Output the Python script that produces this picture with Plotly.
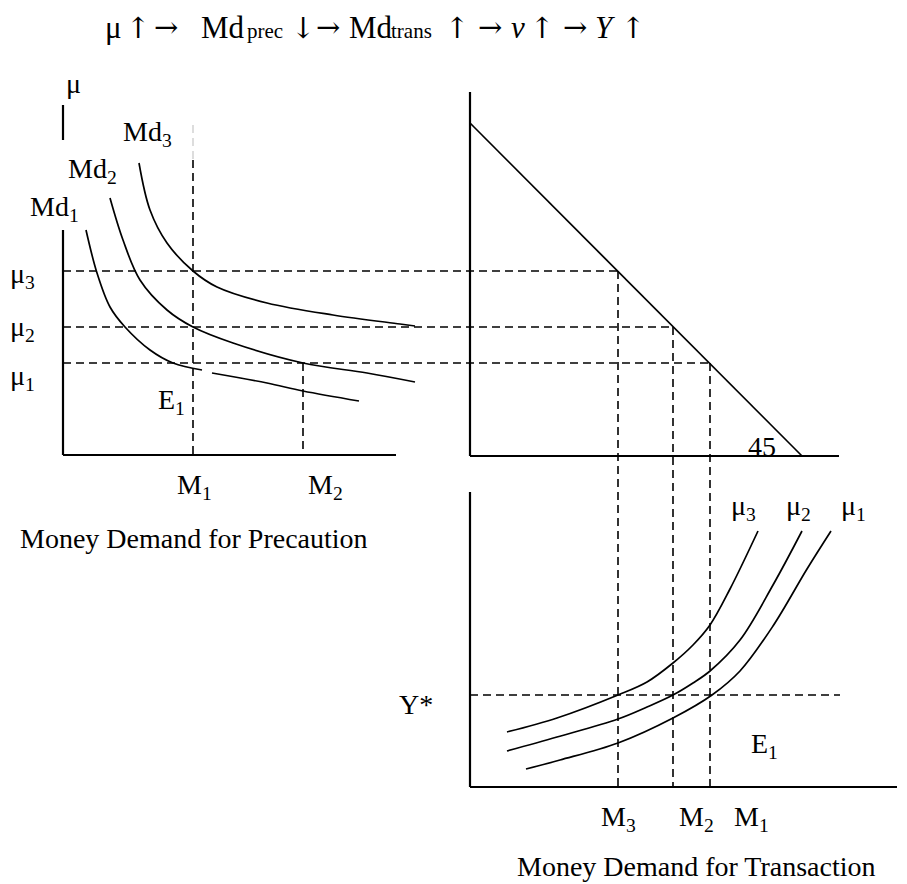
import plotly.graph_objects as go

# ---------------- data (diagram coordinates) ----------------
# Left panel: money demand for precaution curves
md3_x = [139, 150, 167, 193, 217, 267, 333, 400, 415]
md3_y = [163, 210, 243, 271, 287, 303, 315, 324, 326]
md2_x = [110, 123, 140, 167, 193, 233, 303, 367, 415]
md2_y = [198, 240, 280, 310, 327, 343, 363, 373, 382]
md1a_x = [86, 97, 110, 125, 150, 173, 202]
md1a_y = [230, 273, 307, 327, 350, 363, 370]
md1b_x = [212, 267, 303, 359]
md1b_y = [373, 383, 391, 401]

# Right-top panel: 45 degree line
diag_x = [470, 802]
diag_y = [123, 456]

# Bottom panel: money demand for transaction curves
t3_x = [507, 557, 618, 647, 673, 693, 710, 730, 758]
t3_y = [732, 718, 695, 682, 663, 645, 625, 589, 531]
t2_x = [507, 557, 618, 647, 673, 693, 710, 740, 773, 802]
t2_y = [751, 737, 719, 707, 695, 683, 671, 640, 585, 531]
t1_x = [526, 560, 618, 673, 712, 740, 773, 807, 831]
t1_y = [769, 760, 743, 718, 695, 671, 626, 569, 531]

# Levels
mu_levels = [271, 327, 363]          # mu3, mu2, mu1
mu_ends = [618, 673, 710]            # where the dashed level meets the 45 line
m_trans = [618, 673, 710]            # M3, M2, M1 (transaction panel)
m_prec = [193, 303]                  # M1, M2 (precaution panel)
ystar = 695

# Axes segments
axes_x = [[63, 63], [63, 63], [63, 396], [470, 470], [470, 839], [470, 470], [470, 897]]
axes_y = [[105, 140], [230, 455], [455, 455], [92, 456], [456, 456], [492, 787], [787, 787]]

# Labels
labels = [
    ("μ", 73, 83),
    ("Md<sub>3</sub>", 147, 133),
    ("Md<sub>2</sub>", 92, 170),
    ("Md<sub>1</sub>", 54, 208),
    ("μ<sub>3</sub>", 22, 275),
    ("μ<sub>2</sub>", 22, 328),
    ("μ<sub>1</sub>", 22, 377),
    ("E<sub>1</sub>", 171, 401),
    ("M<sub>1</sub>", 194, 486),
    ("M<sub>2</sub>", 325, 486),
    ("Money Demand for Precaution", 194, 538),
    ("45", 762, 446),
    ("μ<sub>3</sub>", 743, 507),
    ("μ<sub>2</sub>", 798, 507),
    ("μ<sub>1</sub>", 853, 507),
    ("E<sub>1</sub>", 764, 745),
    ("Y*", 416, 704),
    ("M<sub>3</sub>", 618, 818),
    ("M<sub>2</sub>", 696, 818),
    ("M<sub>1</sub>", 751, 818),
    ("Money Demand for Transaction", 696, 866),
]

# Title, token by token: kind "t" = text, "s" = small (subscript-like),
# "h" = horizontal arrow, "v" = vertical arrow
title_tokens = ["μ", "↑", "→", "Md", "prec", "↓", "→", "Md", "trans",
                "↑", "→", "<i>v</i>", "↑", "→", "<i>Y</i>", "↑"]
title_kind = ["t", "v", "h", "t", "s", "v", "h", "t", "s",
              "v", "h", "t", "v", "h", "t", "v"]
title_x = [104, 138, 166, 200, 246, 303, 328, 348, 390, 457, 490, 510, 542, 575, 594, 633]

# ---------------- figure ----------------
FONT = "Liberation Serif, Times New Roman, serif"
ARROW_FONT = "DejaVu Serif"
fig = go.Figure()

def line(xs, ys, width=1.6, dash="solid", color="black", shape="linear"):
    fig.add_trace(go.Scatter(x=xs, y=ys, mode="lines", hoverinfo="skip",
                             line=dict(color=color, width=width, dash=dash, shape=shape,
                                       smoothing=1.0 if shape == "spline" else None)))

for xs, ys in zip(axes_x, axes_y):
    line(xs, ys, width=2.2)

DASH = "8px,5px"
for lv, end in zip(mu_levels, mu_ends):
    line([63, end], [lv, lv], width=1.6, dash=DASH)
line([m_prec[0], m_prec[0]], [125, 160], width=0.8, dash=DASH, color="#aaaaaa")
line([m_prec[0], m_prec[0]], [160, 455], width=1.6, dash=DASH)
line([m_prec[1], m_prec[1]], [mu_levels[2], 455], width=1.6, dash=DASH)
for mx, lv in zip(m_trans, mu_levels):
    line([mx, mx], [lv, 787], width=1.6, dash=DASH)
line([470, 840], [ystar, ystar], width=1.6, dash=DASH)

for xs, ys in [(md3_x, md3_y), (md2_x, md2_y), (md1a_x, md1a_y), (md1b_x, md1b_y),
               (t3_x, t3_y), (t2_x, t2_y), (t1_x, t1_y)]:
    line(xs, ys, width=1.7, shape="spline")
line(diag_x, diag_y, width=1.7)

ann = []
for txt, x, y in labels:
    ann.append(dict(text=txt, x=x, y=y, xref="x", yref="y", showarrow=False,
                    font=dict(family=FONT, size=28, color="black")))
for tok, kind, x in zip(title_tokens, title_kind, title_x):
    anchor = "left"
    if kind == "s":
        size, fam, ycen = 21, FONT, 37 - 0.3 * 21
    elif kind == "h":
        size, fam, ycen, anchor = 29, ARROW_FONT, 27, "center"
    elif kind == "v":
        size, fam, ycen, anchor = 29, ARROW_FONT, 28, "center"
    else:
        size, fam, ycen = 31, FONT, 37 - 0.3 * 31
    ann.append(dict(text=tok, x=x, y=ycen, xref="x", yref="y", xanchor=anchor,
                    showarrow=False, borderpad=0,
                    font=dict(family=fam, size=size, color="black")))

fig.update_layout(
    width=899, height=876,
    margin=dict(l=0, r=0, t=0, b=0),
    paper_bgcolor="white", plot_bgcolor="white",
    showlegend=False,
    xaxis=dict(range=[8, 907], visible=False, fixedrange=True),
    yaxis=dict(range=[884, 8], visible=False, fixedrange=True),
    annotations=ann,
)
fig.write_html("out.html")
